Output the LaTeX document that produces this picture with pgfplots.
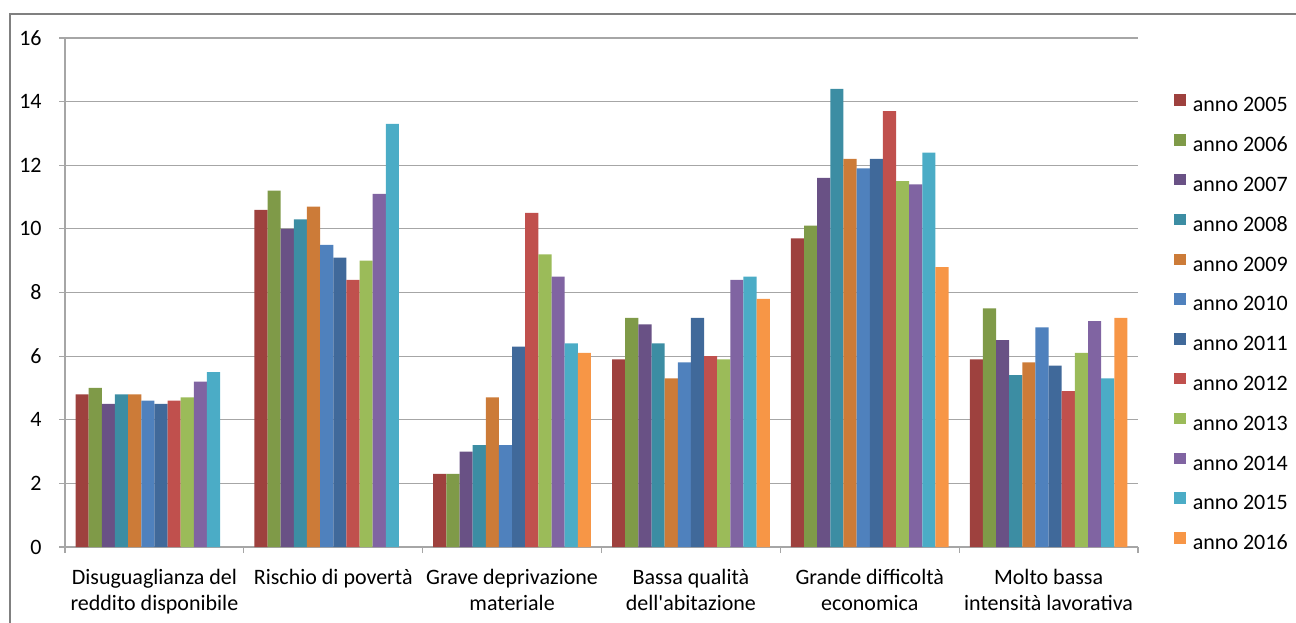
\documentclass[border=0pt]{standalone}
\usepackage{fontspec}
\setmainfont{Carlito}
\newfontfamily\plainfont{Carlito}
\usepackage{pgfplots}
\usepackage{pgfplotstable}
\pgfplotsset{compat=1.18}

\definecolor{c2005}{RGB}{158,65,62}
\definecolor{c2006}{RGB}{127,154,72}
\definecolor{c2007}{RGB}{105,81,133}
\definecolor{c2008}{RGB}{60,141,163}
\definecolor{c2009}{RGB}{204,123,56}
\definecolor{c2010}{RGB}{79,129,189}
\definecolor{c2011}{RGB}{64,105,154}
\definecolor{c2012}{RGB}{192,80,77}
\definecolor{c2013}{RGB}{155,187,89}
\definecolor{c2014}{RGB}{128,100,162}
\definecolor{c2015}{RGB}{75,172,198}
\definecolor{c2016}{RGB}{247,150,70}
\definecolor{gridgray}{RGB}{166,166,166}
\definecolor{framegray}{RGB}{128,128,128}

\pgfplotstableread{
x   a2005 a2006 a2007 a2008 a2009 a2010 a2011 a2012 a2013 a2014 a2015 a2016
0.5 4.8   5.0   4.5   4.8   4.8   4.6   4.5   4.6   4.7   5.2   5.5   nan
1.5 10.6  11.2  10.0  10.3  10.7  9.5   9.1   8.4   9.0   11.1  13.3  nan
2.5 2.3   2.3   3.0   3.2   4.7   3.2   6.3   10.5  9.2   8.5   6.4   6.1
3.5 5.9   7.2   7.0   6.4   5.3   5.8   7.2   6.0   5.9   8.4   8.5   7.8
4.5 9.7   10.1  11.6  14.4  12.2  11.9  12.2  13.7  11.5  11.4  12.4  8.8
5.5 5.9   7.5   6.5   5.4   5.8   6.9   5.7   4.9   6.1   7.1   5.3   7.2
}\data

\begin{document}
\begin{tikzpicture}
\begin{axis}[
  at={(32.5pt,37.5pt)}, anchor=south west,
  scale only axis, width=536.5pt, height=254.5pt,
  xmin=0, xmax=6, ymin=0, ymax=16,
  ytick={0,2,...,16},
  xtick={0,1,...,6}, xticklabels={},
  extra x ticks={0.5,1.5,2.5,3.5,4.5,5.5},
  extra x tick labels={{Disuguaglianza del\\reddito disponibile},{Rischio di povertà},{Grave deprivazione\\materiale},{Bassa qualità\\dell{\plainfont '}abitazione},{Grande difficoltà\\economica},{Molto bassa\\intensità lavorativa}},
  extra x tick style={major tick length=0pt, grid=none},
  ybar=0pt, bar width=6.57pt,
  axis x line*=bottom, axis y line*=left,
  axis line style={-, draw=gridgray, line width=0.6pt},
  ymajorgrids, grid style={draw=gridgray, line width=0.6pt},
  tick align=outside, major tick length=3pt,
  tick style={draw=gridgray, line width=0.6pt},
  /pgf/number format/assume math mode=true,
  tick label style={font=\fontsize{11}{13}\selectfont, text=black},
  xticklabel style={align=center, anchor=north, inner sep=0pt, yshift=-11pt},
  yticklabel style={anchor=east, inner sep=0pt, xshift=-8.5pt},
  legend style={at={(1.0336,0.442)}, anchor=west, draw=none, fill=none,
    inner sep=0pt, row sep=11.2pt, column sep=3.5pt,
    font=\fontsize{11}{13}\selectfont,
    nodes={inner sep=0pt, text height=7pt, text depth=0pt}},
  legend cell align=left,
  legend image code/.code={\fill[#1] (0pt,-0.5pt) rectangle (5.7pt,5.2pt);},
  every axis plot/.append style={draw=none},
]
\addplot[fill=c2005] table[x=x,y=a2005]{\data};
\addplot[fill=c2006] table[x=x,y=a2006]{\data};
\addplot[fill=c2007] table[x=x,y=a2007]{\data};
\addplot[fill=c2008] table[x=x,y=a2008]{\data};
\addplot[fill=c2009] table[x=x,y=a2009]{\data};
\addplot[fill=c2010] table[x=x,y=a2010]{\data};
\addplot[fill=c2011] table[x=x,y=a2011]{\data};
\addplot[fill=c2012] table[x=x,y=a2012]{\data};
\addplot[fill=c2013] table[x=x,y=a2013]{\data};
\addplot[fill=c2014] table[x=x,y=a2014]{\data};
\addplot[fill=c2015] table[x=x,y=a2015]{\data};
\addplot[fill=c2016] table[x=x,y=a2016]{\data};
\legend{anno 2005,anno 2006,anno 2007,anno 2008,anno 2009,anno 2010,anno 2011,anno 2012,anno 2013,anno 2014,anno 2015,anno 2016}
\end{axis}
\draw[framegray, line width=1pt] (5pt,-20pt) |- (700pt,304pt);
\pgfresetboundingbox
\path[use as bounding box] (0,0) rectangle (648pt,311pt);
\end{tikzpicture}
\end{document}
